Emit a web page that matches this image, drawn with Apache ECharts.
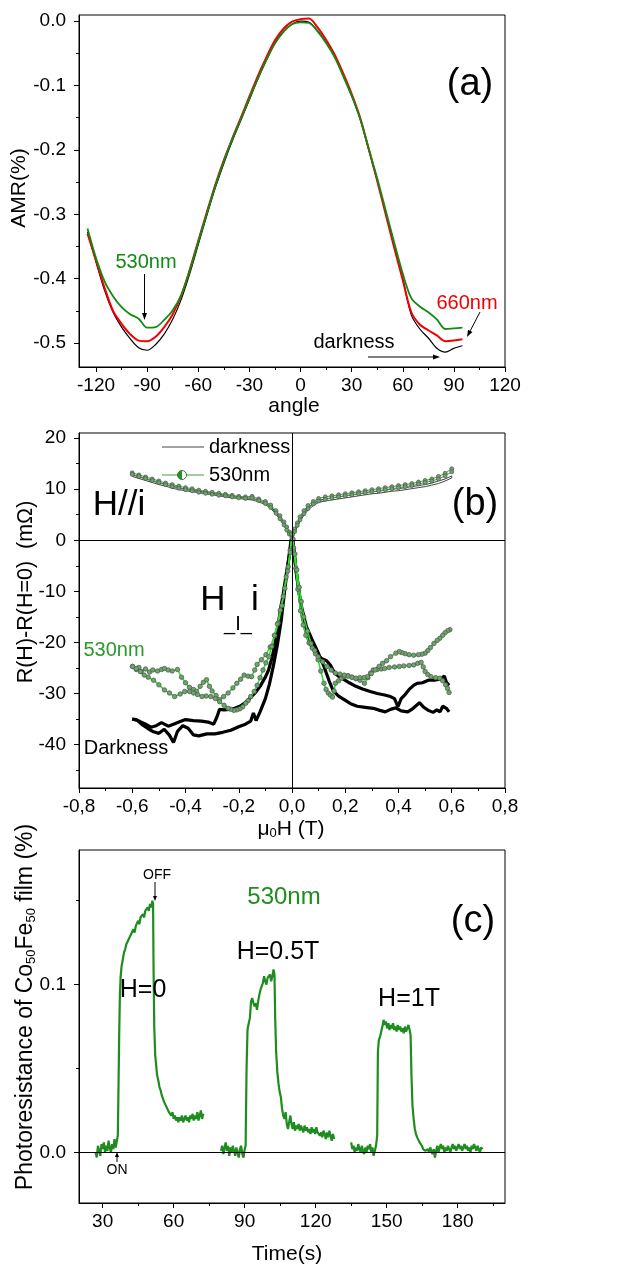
<!DOCTYPE html>
<html lang="en">
<head>
<meta charset="UTF-8">
<title>AMR and photoresistance</title>
<script src="https://cdn.jsdelivr.net/npm/echarts@6/dist/echarts.min.js"></script>
<style>html,body{margin:0;padding:0;background:#fff;}</style>
</head>
<body>
<div id="main" style="width:623px;height:1267px;"></div>
<script>
// ---- (a) AMR vs angle ----
const angles = [-125,-120,-115,-110,-105,-100,-95,-90,-85,-80,-75,-70,-65,-60,-55,-50,-45,-40,-35,-30,-25,-20,-15,-10,-5,0,5,10,15,20,25,30,35,40,45,50,55,60,65,70,75,80,85,90,95];
const amrDark  = [-0.327,-0.374,-0.418,-0.452,-0.475,-0.493,-0.507,-0.511,-0.502,-0.486,-0.463,-0.432,-0.392,-0.347,-0.302,-0.259,-0.221,-0.186,-0.154,-0.122,-0.090,-0.061,-0.034,-0.016,-0.005,0.000,-0.002,-0.015,-0.033,-0.055,-0.085,-0.116,-0.152,-0.200,-0.247,-0.298,-0.350,-0.400,-0.456,-0.478,-0.492,-0.508,-0.514,-0.508,-0.504];
const amr660   = [-0.330,-0.372,-0.414,-0.450,-0.470,-0.486,-0.496,-0.497,-0.490,-0.475,-0.455,-0.426,-0.386,-0.341,-0.297,-0.254,-0.216,-0.182,-0.150,-0.117,-0.085,-0.056,-0.030,-0.012,-0.001,0.003,0.004,-0.010,-0.029,-0.052,-0.081,-0.113,-0.150,-0.198,-0.248,-0.300,-0.352,-0.402,-0.452,-0.471,-0.480,-0.488,-0.497,-0.496,-0.494];
const amr530   = [-0.322,-0.368,-0.404,-0.427,-0.444,-0.455,-0.462,-0.476,-0.475,-0.464,-0.449,-0.425,-0.387,-0.343,-0.299,-0.256,-0.218,-0.183,-0.152,-0.120,-0.089,-0.060,-0.035,-0.017,-0.005,-0.002,-0.003,-0.016,-0.034,-0.056,-0.085,-0.116,-0.152,-0.198,-0.244,-0.294,-0.344,-0.392,-0.430,-0.443,-0.452,-0.463,-0.478,-0.477,-0.476];
const angleTicks = [-120,-90,-60,-30,0,30,60,90,120];
const angleMinor = [-105,-75,-45,-15,15,45,75,105];
const amrTicks = [-0.5,-0.4,-0.3,-0.2,-0.1,0];
const amrMinor = [-0.45,-0.35,-0.25,-0.15,-0.05];

// ---- (b) R(H)-R(0) vs field ----
const parX = [-0.6,-0.575,-0.55,-0.525,-0.5,-0.475,-0.45,-0.425,-0.4,-0.375,-0.35,-0.325,-0.3,-0.275,-0.25,-0.225,-0.2,-0.175,-0.15,-0.125,-0.1,
  -0.08,-0.06,-0.045,-0.03,-0.02,-0.01,0,0.01,0.02,0.03,0.045,0.06,0.08,
  0.1,0.125,0.15,0.175,0.2,0.225,0.25,0.275,0.3,0.325,0.35,0.375,0.4,0.425,0.45,0.475,0.5,0.525,0.55,0.575,0.6];
const parGreenUp = [13.2,12.8,12.4,12.0,11.6,11.2,10.9,10.6,10.3,10.1,9.8,9.6,9.4,9.2,9.0,8.8,8.6,8.5,8.6,8.1,7.6,
  6.9,5.8,4.8,3.6,2.6,1.6,1.0,2.2,3.4,4.6,5.8,6.8,7.6,
  8.2,8.5,8.7,8.9,9.1,9.3,9.5,9.7,9.9,10.1,10.3,10.5,10.7,10.9,11.1,11.4,11.7,12.0,12.5,13.1,14.0];
const parGreenDown = [12.9,12.5,12.1,11.7,11.3,10.9,10.5,10.2,9.9,9.7,9.4,9.2,9.0,8.8,8.7,8.5,8.3,8.2,8.3,7.8,7.2,
  6.4,5.3,4.2,3.0,2.0,1.2,0.6,1.7,2.9,4.0,5.2,6.2,7.1,
  7.7,8.0,8.3,8.5,8.7,8.9,9.1,9.3,9.5,9.7,9.9,10.1,10.3,10.5,10.7,11.0,11.3,11.6,12.0,12.6,13.4];
const parDarkUp = [12.8,12.4,12.0,11.6,11.2,10.9,10.6,10.3,10.0,9.8,9.6,9.4,9.2,9.0,8.8,8.6,8.4,8.3,8.2,7.8,7.3,
  6.6,5.5,4.5,3.3,2.3,1.4,0.8,2.0,3.1,4.2,5.4,6.4,7.2,
  7.8,8.1,8.3,8.5,8.7,8.9,9.1,9.3,9.5,9.6,9.8,10.0,10.1,10.3,10.5,10.7,10.9,11.2,11.6,12.0,12.6];
const parDarkDown = [12.5,12.1,11.7,11.3,10.9,10.6,10.2,9.9,9.7,9.5,9.3,9.1,8.9,8.7,8.5,8.3,8.2,8.0,7.9,7.5,7.0,
  6.2,5.1,4.0,2.9,1.9,1.1,0.5,1.5,2.6,3.7,4.9,5.9,6.8,
  7.4,7.7,7.9,8.1,8.3,8.5,8.7,8.9,9.1,9.2,9.4,9.6,9.7,9.9,10.1,10.3,10.5,10.8,11.1,11.6,12.2];

const perpDarkA = [[-0.6,-35.0],[-0.58,-35.3],[-0.56,-36.2],[-0.54,-36.9],[-0.52,-37.5],[-0.5,-37.8],[-0.48,-37.0],[-0.46,-38.2],[-0.445,-39.6],[-0.43,-37.4],[-0.41,-36.3],[-0.39,-36.8],[-0.37,-38.1],[-0.35,-38.3],[-0.32,-37.9],[-0.29,-37.9],[-0.26,-37.6],[-0.23,-37.2],[-0.2,-36.5],[-0.175,-36.0],[-0.155,-35.4],[-0.145,-33.8],[-0.135,-35.3],[-0.12,-33.6],[-0.1,-31.0],[-0.085,-28.2],[-0.07,-24.6],[-0.055,-20.5],[-0.04,-15.5],[-0.027,-9.5],[-0.015,-4.8],[-0.005,-0.5],[0,1.0]];
const perpDarkD = [[0.005,-0.8],[0.015,-6.0],[0.033,-12.4],[0.054,-16.9],[0.075,-19.4],[0.095,-21.6],[0.12,-24.7],[0.14,-27.6],[0.155,-29.5],[0.175,-30.5],[0.196,-31.2],[0.22,-32.0],[0.245,-32.5],[0.275,-32.7],[0.305,-32.9],[0.33,-33.3],[0.35,-33.6],[0.37,-33.1],[0.39,-32.8],[0.41,-33.4],[0.435,-33.6],[0.455,-32.9],[0.479,-31.8],[0.495,-32.7],[0.512,-33.3],[0.53,-33.7],[0.544,-33.2],[0.556,-33.6],[0.566,-32.5],[0.58,-32.9],[0.59,-33.6]];
const perpDarkC = [[0.59,-28.4],[0.58,-27.8],[0.572,-26.6],[0.555,-27.2],[0.535,-27.4],[0.512,-27.4],[0.49,-27.9],[0.47,-28.0],[0.457,-28.4],[0.44,-29.2],[0.425,-30.2],[0.41,-31.0],[0.398,-32.6],[0.385,-31.0],[0.37,-30.6],[0.348,-30.3],[0.32,-30.0],[0.294,-29.6],[0.265,-29.1],[0.24,-28.6],[0.215,-27.9],[0.196,-27.3],[0.175,-26.6],[0.16,-26.0],[0.145,-24.5],[0.13,-23.6],[0.112,-23.2],[0.098,-22.6],[0.08,-21.4],[0.065,-20.0],[0.05,-17.4],[0.04,-15.4],[0.027,-10.5],[0.015,-5.6],[0.005,-1.0],[0,1.0]];
const perpDarkB = [[-0.005,-1.2],[-0.012,-3.6],[-0.022,-6.8],[-0.033,-10.5],[-0.044,-13.8],[-0.055,-17.5],[-0.065,-20.6],[-0.076,-23.2],[-0.088,-25.4],[-0.1,-26.8],[-0.12,-28.6],[-0.137,-29.8],[-0.152,-30.6],[-0.175,-31.8],[-0.196,-32.5],[-0.215,-32.9],[-0.235,-33.1],[-0.255,-33.2],[-0.272,-33.1],[-0.282,-34.6],[-0.294,-36.0],[-0.315,-35.6],[-0.34,-35.4],[-0.37,-35.3],[-0.4,-35.1],[-0.42,-35.5],[-0.445,-36.0],[-0.465,-36.4],[-0.49,-35.7],[-0.51,-36.3],[-0.53,-36.6],[-0.55,-36.0],[-0.57,-35.5],[-0.585,-35.1],[-0.6,-35.0]];

const perpGreenE = [[-0.599,-24.7],[-0.585,-25.3],[-0.575,-24.9],[-0.566,-25.7],[-0.55,-25.2],[-0.535,-25.8],[-0.523,-25.4],[-0.505,-25.6],[-0.49,-25.3],[-0.479,-25.1],[-0.465,-25.4],[-0.45,-25.6],[-0.43,-25.3],[-0.415,-26.8],[-0.4,-27.9],[-0.385,-28.8],[-0.37,-29.2],[-0.359,-29.6],[-0.345,-28.6],[-0.333,-27.8],[-0.321,-27.3],[-0.31,-28.6],[-0.3,-29.5],[-0.285,-30.4],[-0.272,-31.2],[-0.257,-30.6],[-0.24,-29.9],[-0.222,-28.9],[-0.207,-28.0],[-0.193,-27.2],[-0.18,-26.4],[-0.165,-26.6],[-0.152,-26.7],[-0.14,-25.4],[-0.131,-24.3],[-0.115,-23.4],[-0.098,-22.4],[-0.082,-20.9],[-0.065,-18.7],[-0.052,-16.2],[-0.038,-12.8],[-0.027,-9.4],[-0.016,-6.0],[-0.007,-2.0],[0,1.2]];
const perpGreenH = [[0.006,-1.5],[0.014,-5.5],[0.022,-9.6],[0.032,-13.8],[0.042,-16.6],[0.052,-18.6],[0.064,-20.1],[0.076,-21.1],[0.088,-22.2],[0.098,-23.4],[0.108,-25.6],[0.12,-28.0],[0.128,-29.2],[0.136,-29.9],[0.144,-30.3],[0.152,-30.7],[0.158,-29.5],[0.163,-28.0],[0.175,-27.5],[0.186,-27.0],[0.196,-26.7],[0.21,-26.5],[0.225,-26.8],[0.24,-27.1],[0.255,-27.4],[0.272,-28.0],[0.285,-26.9],[0.295,-26.0],[0.305,-25.4],[0.32,-25.3],[0.335,-25.2],[0.348,-25.1],[0.365,-24.9],[0.385,-24.8],[0.403,-24.7],[0.42,-24.6],[0.44,-24.5],[0.457,-24.4],[0.472,-24.1],[0.485,-23.9],[0.493,-24.8],[0.5,-25.7],[0.51,-26.3],[0.522,-26.7],[0.54,-26.9],[0.555,-27.0],[0.566,-27.5],[0.577,-28.3],[0.584,-29.0],[0.59,-29.8]];
const perpGreenG = [[0.593,-17.5],[0.585,-17.7],[0.575,-18.1],[0.566,-18.6],[0.555,-19.2],[0.545,-19.6],[0.533,-20.2],[0.52,-21.0],[0.51,-21.6],[0.5,-22.1],[0.488,-22.3],[0.475,-22.4],[0.457,-22.5],[0.44,-22.4],[0.425,-22.2],[0.413,-22.0],[0.403,-21.8],[0.39,-22.1],[0.37,-22.8],[0.355,-23.6],[0.34,-24.1],[0.327,-24.7],[0.312,-25.4],[0.298,-26.1],[0.283,-26.7],[0.27,-26.9],[0.255,-26.9],[0.24,-27.0],[0.225,-26.8],[0.21,-26.6],[0.196,-26.4],[0.18,-26.2],[0.163,-26.0],[0.147,-25.4],[0.131,-24.7],[0.115,-23.8],[0.098,-22.8],[0.085,-21.6],[0.071,-20.2],[0.058,-17.8],[0.044,-15.0],[0.035,-12.0],[0.027,-9.2],[0.018,-5.8],[0.011,-2.7],[0.004,0.2],[0,1.2]];
const perpGreenF = [[-0.006,-2.4],[-0.014,-5.2],[-0.022,-7.2],[-0.033,-11.0],[-0.044,-13.7],[-0.055,-16.4],[-0.066,-18.6],[-0.076,-20.8],[-0.087,-22.8],[-0.098,-24.0],[-0.109,-25.4],[-0.12,-26.9],[-0.131,-28.4],[-0.142,-29.6],[-0.155,-30.6],[-0.165,-31.4],[-0.174,-31.9],[-0.185,-32.6],[-0.196,-33.0],[-0.207,-33.2],[-0.218,-33.3],[-0.23,-33.1],[-0.24,-32.9],[-0.255,-32.3],[-0.272,-31.6],[-0.288,-31.0],[-0.305,-30.6],[-0.322,-30.5],[-0.338,-30.6],[-0.355,-30.2],[-0.37,-29.9],[-0.385,-29.6],[-0.403,-29.6],[-0.42,-30.1],[-0.441,-30.6],[-0.46,-29.9],[-0.479,-29.3],[-0.5,-28.3],[-0.52,-27.4],[-0.54,-26.8],[-0.555,-26.4],[-0.57,-25.7],[-0.585,-25.1],[-0.599,-24.7]];
const fieldTicks = [-0.8,-0.6,-0.4,-0.2,0,0.2,0.4,0.6,0.8];
const fieldMinor = [-0.7,-0.5,-0.3,-0.1,0.1,0.3,0.5,0.7];
const resTicks = [-40,-30,-20,-10,0,10,20];
const resMinor = [-45,-35,-25,-15,-5,5,15];

// ---- (c) photoresistance vs time ----
const pulseH0 = [[27.0,0.000],[27.5,-0.003],[28.0,0.004],[28.5,0.001],[29.0,-0.002],[29.5,0.005],[30.0,0.002],[30.5,0.006],[31.0,0.000],[31.5,0.004],[32.0,0.001],[32.5,0.007],[33.0,0.003],[33.5,0.000],[34.0,0.005],[34.5,0.002],[35.0,0.008],[35.5,0.003],[36.0,0.004],[36.4,0.010],[36.7,0.040],[37.0,0.072],[37.3,0.095],[37.6,0.105],[38.0,0.111],[38.5,0.115],[39.0,0.119],[39.5,0.121],[40.0,0.124],[40.5,0.123],[41.0,0.127],[41.5,0.126],[42.0,0.130],[42.5,0.129],[43.0,0.133],[43.5,0.131],[44.0,0.135],[44.5,0.134],[45.0,0.138],[45.5,0.136],[46.0,0.140],[46.5,0.139],[47.0,0.142],[47.5,0.140],[48.0,0.144],[48.5,0.143],[49.0,0.146],[49.5,0.144],[50.0,0.148],[50.5,0.146],[51.0,0.150],[51.3,0.148],[51.5,0.110],[51.8,0.075],[52.2,0.058],[52.6,0.052],[53.0,0.046],[53.5,0.043],[54.0,0.039],[54.5,0.037],[55.0,0.034],[55.5,0.032],[56.0,0.030],[56.5,0.029],[57.0,0.027],[57.5,0.026],[58.0,0.024],[58.5,0.025],[59.0,0.022],[59.5,0.024],[60.0,0.020],[60.5,0.022],[61.0,0.019],[61.5,0.021],[62.0,0.018],[62.5,0.021],[63.0,0.019],[63.5,0.022],[64.0,0.018],[64.5,0.020],[65.0,0.022],[65.5,0.019],[66.0,0.021],[66.5,0.018],[67.0,0.022],[67.5,0.020],[68.0,0.023],[68.5,0.019],[69.0,0.022],[69.5,0.020],[70.0,0.024],[70.5,0.019],[71.0,0.022],[71.5,0.025],[72.0,0.020],[72.5,0.023]];
const pulseH05 = [[80.0,0.001],[80.5,0.004],[81.0,-0.001],[81.5,0.003],[82.0,0.006],[82.5,0.001],[83.0,0.004],[83.5,-0.002],[84.0,0.003],[84.5,0.000],[85.0,0.004],[85.5,0.001],[86.0,-0.002],[86.5,0.003],[87.0,0.000],[87.5,-0.003],[88.0,0.002],[88.5,0.004],[89.0,-0.001],[89.5,-0.003],[90.0,0.002],[90.4,0.004],[90.8,0.050],[91.2,0.073],[91.7,0.077],[92.2,0.080],[92.7,0.090],[93.2,0.092],[93.7,0.089],[94.2,0.087],[94.7,0.089],[95.2,0.085],[95.7,0.090],[96.2,0.094],[96.7,0.097],[97.2,0.096],[97.7,0.101],[98.2,0.105],[98.7,0.102],[99.2,0.100],[99.7,0.104],[100.2,0.103],[100.7,0.106],[101.2,0.102],[101.7,0.105],[102.2,0.109],[102.6,0.106],[102.9,0.080],[103.3,0.060],[103.8,0.048],[104.3,0.041],[104.8,0.036],[105.3,0.033],[105.8,0.026],[106.3,0.022],[106.8,0.020],[107.3,0.024],[107.8,0.017],[108.3,0.014],[108.8,0.018],[109.3,0.022],[109.8,0.017],[110.3,0.014],[110.8,0.018],[111.3,0.013],[111.8,0.016],[112.3,0.014],[112.8,0.017],[113.3,0.013],[113.8,0.016],[114.3,0.015],[114.8,0.012],[115.3,0.016],[115.8,0.013],[116.3,0.015],[116.8,0.012],[117.3,0.014],[117.8,0.011],[118.3,0.015],[118.8,0.012],[119.3,0.014],[119.8,0.011],[120.3,0.015],[120.8,0.012],[121.3,0.013],[121.8,0.010],[122.3,0.012],[122.8,0.009],[123.3,0.013],[123.8,0.011],[124.3,0.008],[124.8,0.012],[125.3,0.009],[125.8,0.013],[126.3,0.010],[126.8,0.007],[127.3,0.011],[127.8,0.008]];
const pulseH1 = [[135.0,0.006],[135.5,0.002],[136.0,0.004],[136.5,0.000],[137.0,0.003],[137.5,0.001],[138.0,0.005],[138.5,0.002],[139.0,0.000],[139.5,0.004],[140.0,0.001],[140.5,-0.001],[141.0,0.003],[141.5,0.000],[142.0,0.004],[142.5,0.002],[143.0,0.005],[143.5,0.000],[144.0,0.003],[144.5,-0.002],[145.0,0.001],[145.5,0.004],[146.0,0.010],[146.3,0.060],[146.7,0.067],[147.2,0.069],[147.7,0.072],[148.2,0.075],[148.7,0.079],[149.2,0.076],[149.7,0.078],[150.2,0.074],[150.7,0.077],[151.2,0.073],[151.7,0.076],[152.2,0.074],[152.7,0.077],[153.2,0.073],[153.7,0.075],[154.2,0.072],[154.7,0.076],[155.2,0.073],[155.7,0.075],[156.2,0.072],[156.7,0.074],[157.2,0.071],[157.7,0.075],[158.2,0.072],[158.7,0.074],[159.2,0.076],[159.7,0.073],[160.1,0.070],[160.5,0.045],[160.9,0.028],[161.4,0.020],[161.9,0.014],[162.4,0.011],[162.9,0.009],[163.4,0.008],[163.9,0.006],[164.4,0.005],[164.9,0.004],[165.4,0.002],[165.9,0.003],[166.4,0.001],[166.9,0.000],[167.4,0.002],[167.9,0.000],[168.4,0.003],[168.9,0.001],[169.4,-0.001],[169.9,0.002],[170.4,-0.003],[170.9,0.001],[171.4,0.004],[171.9,0.000],[172.4,0.003],[172.9,0.005],[173.4,0.002],[173.9,0.004],[174.4,0.000],[174.9,0.003],[175.4,0.001],[175.9,0.004],[176.4,0.002],[176.9,0.000],[177.4,0.003],[177.9,0.005],[178.4,0.002],[178.9,0.004],[179.4,0.001],[179.9,0.003],[180.4,0.005],[180.9,0.002],[181.4,0.004],[181.9,0.001],[182.4,0.003],[182.9,0.005],[183.4,0.002],[183.9,0.004],[184.4,0.001],[184.9,0.003],[185.4,0.000],[185.9,0.004],[186.4,0.002],[186.9,0.005],[187.4,0.003],[187.9,0.001],[188.4,0.004],[188.9,0.002],[189.4,0.000],[189.9,0.003],[190.5,0.002]];
const timeTicks = [30,60,90,120,150,180];
const timeMinor = [45,75,105,135,165,195];
const prTicks = [0,0.1];
const prMinor = [0.05,0.15];

const FONT = 'Liberation Sans, Arial, sans-serif';
const chart = echarts.init(document.getElementById('main'));

function majorAxis(gridIndex, min, max, ticks, fmt, pos, margin) {
  return {
    type: 'value', gridIndex, min, max, position: pos,
    splitLine: {show: false},
    axisLine: {show: true, onZero: false, lineStyle: {color: '#000', width: 1}},
    axisTick: {show: true, length: 5, customValues: ticks, lineStyle: {color: '#000', width: 1}},
    axisLabel: {show: true, customValues: ticks, formatter: fmt, color: '#000', fontSize: 19, fontFamily: FONT, margin}
  };
}
function minorAxis(gridIndex, min, max, ticks, pos) {
  return {
    type: 'value', gridIndex, min, max, position: pos, offset: 0,
    splitLine: {show: false},
    axisLine: {show: false, onZero: false},
    axisTick: {show: true, length: 3, customValues: ticks, lineStyle: {color: '#000', width: 1}},
    axisLabel: {show: false}
  };
}
const dot1 = v => v.toFixed(1);
const comma1 = v => v.toFixed(1).replace('.', ',');
const plain = v => String(v);

function zip(xs, ys) { return xs.map((x, i) => [x, ys[i]]); }
function loop(up, down) { return zip(parX, up).concat(zip(parX, down).reverse()); }

const markerStyle = {color: '#6aa86a', borderColor: '#505050', borderWidth: 0.7};
const zeroLine = (data) => ({silent: true, symbol: 'none', label: {show: false},
  lineStyle: {color: '#000', width: 1, type: 'solid'}, data});

const G = {left: 79, width: 426, show: true, borderColor: '#000', borderWidth: 1, containLabel: false, outerBoundsMode: 'none'};

const option = {
  animation: false,
  backgroundColor: '#fff',
  grid: [
    Object.assign({top: 15, height: 352}, G),
    Object.assign({top: 433, height: 355}, G),
    Object.assign({top: 850, height: 353}, G)
  ],
  xAxis: [
    majorAxis(0, -130, 120, angleTicks, plain, 'bottom', 9),
    majorAxis(1, -0.8, 0.8, fieldTicks, comma1, 'bottom', 9),
    majorAxis(2, 20, 200, timeTicks, plain, 'bottom', 9),
    minorAxis(0, -130, 120, angleMinor, 'bottom'),
    minorAxis(1, -0.8, 0.8, fieldMinor, 'bottom'),
    minorAxis(2, 20, 200, timeMinor, 'bottom')
  ],
  yAxis: [
    majorAxis(0, -0.537, 0.0094, amrTicks, dot1, 'left', 13),
    majorAxis(1, -48.5, 21, resTicks, plain, 'left', 13),
    majorAxis(2, -0.0301, 0.1802, prTicks, dot1, 'left', 13),
    minorAxis(0, -0.537, 0.0094, amrMinor, 'left'),
    minorAxis(1, -48.5, 21, resMinor, 'left'),
    minorAxis(2, -0.0301, 0.1802, prMinor, 'left')
  ],
  series: [
    // (a)
    {type: 'line', xAxisIndex: 0, yAxisIndex: 0, data: zip(angles, amrDark), smooth: 0.3, showSymbol: false,
      lineStyle: {color: '#000', width: 1.2}},
    {type: 'line', xAxisIndex: 0, yAxisIndex: 0, data: zip(angles, amr660), smooth: 0.3, showSymbol: false,
      lineStyle: {color: '#f00000', width: 2}},
    {type: 'line', xAxisIndex: 0, yAxisIndex: 0, data: zip(angles, amr530), smooth: 0.3, showSymbol: false,
      lineStyle: {color: '#138a13', width: 1.8}},
    // (b) H//i
    {type: 'line', xAxisIndex: 1, yAxisIndex: 1, data: loop(parDarkUp, parDarkDown), showSymbol: false,
      lineStyle: {color: '#444', width: 1},
      markLine: zeroLine([{yAxis: 0}, {xAxis: 0}])},
    {type: 'line', xAxisIndex: 1, yAxisIndex: 1, data: loop(parGreenUp, parGreenDown), showAllSymbol: true,
      symbol: 'circle', symbolSize: 4, itemStyle: markerStyle, lineStyle: {color: '#3f9f3f', width: 1}},
    // (b) H perp i, two sweeps each
    {type: 'line', xAxisIndex: 1, yAxisIndex: 1, data: perpDarkA.concat(perpDarkD), showSymbol: false,
      lineStyle: {color: '#000', width: 3.2}},
    {type: 'line', xAxisIndex: 1, yAxisIndex: 1, data: perpDarkC.concat(perpDarkB), showSymbol: false,
      lineStyle: {color: '#000', width: 3.2}},
    {type: 'line', xAxisIndex: 1, yAxisIndex: 1, data: perpGreenE.concat(perpGreenH), showAllSymbol: true,
      symbol: 'circle', symbolSize: 4.5, itemStyle: markerStyle, lineStyle: {color: '#2fe02f', width: 1.6}},
    {type: 'line', xAxisIndex: 1, yAxisIndex: 1, data: perpGreenG.concat(perpGreenF), showAllSymbol: true,
      symbol: 'circle', symbolSize: 4.5, itemStyle: markerStyle, lineStyle: {color: '#2fe02f', width: 1.6}},
    // (c)
    {type: 'line', xAxisIndex: 2, yAxisIndex: 2, data: pulseH0, showSymbol: false,
      lineStyle: {color: '#1e8c1e', width: 2.2}, markLine: zeroLine([{yAxis: 0}])},
    {type: 'line', xAxisIndex: 2, yAxisIndex: 2, data: pulseH05, showSymbol: false,
      lineStyle: {color: '#1e8c1e', width: 2.2}},
    {type: 'line', xAxisIndex: 2, yAxisIndex: 2, data: pulseH1, showSymbol: false,
      lineStyle: {color: '#1e8c1e', width: 2.2}}
  ]
};
chart.setOption(option);

// ---- annotations ----
function txt(text, x, y, size, color, extra) {
  const el = {type: 'text', x, y, z: 100, silent: true,
    style: {text, fill: color || '#000', fontSize: size, fontFamily: FONT, align: 'center', verticalAlign: 'middle'}};
  if (extra) {
    if (extra.style) Object.assign(el.style, extra.style);
    if (extra.rotation) el.rotation = extra.rotation;
  }
  return el;
}
function arrow(x1, y1, x2, y2, len, half) {
  len = len || 7; half = half || 2.5;
  const a = Math.atan2(y2 - y1, x2 - x1);
  const bx = x2 - len * Math.cos(a), by = y2 - len * Math.sin(a);
  const px = -Math.sin(a) * half, py = Math.cos(a) * half;
  return {type: 'group', z: 100, silent: true, children: [
    {type: 'line', shape: {x1, y1, x2: bx, y2: by}, style: {stroke: '#000', lineWidth: 1}},
    {type: 'polygon', shape: {points: [[x2, y2], [bx + px, by + py], [bx - px, by - py]]}, style: {fill: '#000'}}
  ]};
}
const sub = {s: {fontSize: 13, fontFamily: FONT, fill: '#000', verticalAlign: 'bottom'}};
const up = Math.PI / 2;

const graphics = [
  // (a)
  txt('(a)', 470, 85, 38),
  txt('530nm', 146, 262, 20, '#138a13'),
  arrow(144.5, 274, 144.5, 320),
  txt('660nm', 467, 303, 20, '#f00000'),
  arrow(480, 312, 467, 337),
  txt('darkness', 354, 342, 20),
  arrow(368, 357, 440, 357),
  txt('AMR(%)', 19, 188, 21, '#000', {rotation: up}),
  txt('angle', 294, 406, 21),
  // (b)
  {type: 'line', z: 100, silent: true, shape: {x1: 162, y1: 447, x2: 204, y2: 447}, style: {stroke: '#444', lineWidth: 1}},
  txt('darkness', 209, 447, 20, '#000', {style: {align: 'left'}}),
  {type: 'line', z: 100, silent: true, shape: {x1: 162, y1: 475, x2: 204, y2: 475}, style: {stroke: '#3f9f3f', lineWidth: 1}},
  {type: 'circle', z: 101, silent: true, shape: {cx: 182, cy: 475, r: 4.5}, style: {fill: '#fff', stroke: '#2d7a2d', lineWidth: 1}},
  {type: 'sector', z: 102, silent: true, shape: {cx: 182, cy: 475, r: 4.5, r0: 0, startAngle: Math.PI / 2, endAngle: Math.PI * 1.5, clockwise: true}, style: {fill: '#2d8a2d'}},
  txt('530nm', 209, 475, 20, '#000', {style: {align: 'left'}}),
  txt('(b)', 475, 505, 38),
  txt('H//i', 119, 505, 35),
  txt('H', 213, 600, 35),
  txt('_I_', 238, 624, 20),
  txt('i', 255, 600, 35),
  txt('530nm', 114, 650, 20, '#2a9a2a'),
  txt('Darkness', 126, 748, 20),
  txt('R(H)-R(H=0)  (m\u03A9)', 26, 592, 21.5, '#000', {rotation: up}),
  txt('\u03BC{s|0}H (T)', 291, 829, 21, '#000', {style: {rich: sub}}),
  // (c)
  txt('OFF', 157, 875, 14),
  arrow(155, 882, 155, 901, 5, 2),
  txt('ON', 117, 1170, 14),
  arrow(117, 1162, 117, 1152, 5, 2),
  txt('530nm', 284, 897, 24, '#1e8c1e'),
  txt('(c)', 473, 922, 38),
  txt('H=0', 143, 990, 25),
  txt('H=0.5T', 278, 952, 25),
  txt('H=1T', 409, 999, 25),
  txt('Photoresistance of Co{s|50}Fe{s|50} film (%)', 26, 1007, 23, '#000', {rotation: up, style: {rich: sub}}),
  txt('Time(s)', 287, 1254, 21)
];
chart.setOption({graphic: {elements: graphics}});
</script>
</body>
</html>
